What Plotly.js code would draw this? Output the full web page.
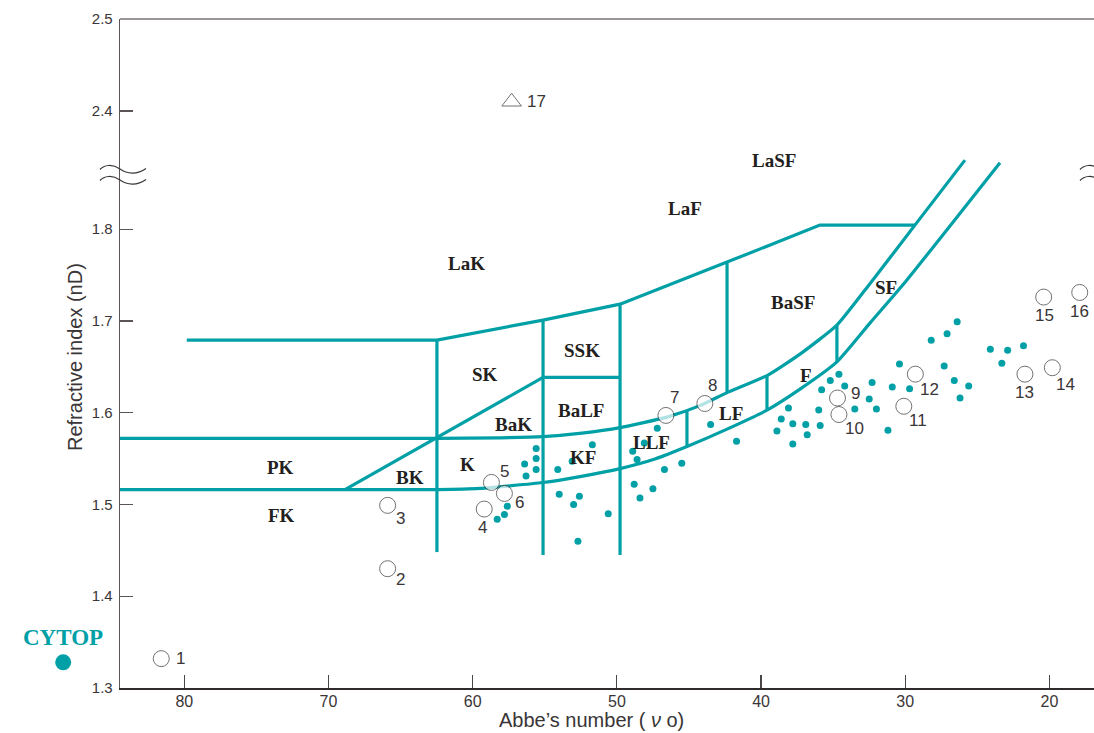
<!DOCTYPE html>
<html>
<head>
<meta charset="utf-8">
<script src="https://cdn.plot.ly/plotly-3.0.1.min.js"></script>
<style>
  html, body { margin: 0; padding: 0; background: #ffffff; }
  #chart { width: 1094px; height: 733px; }
</style>
</head>
<body>
<div id="chart"></div>
<script>
// ---- Glass map data: Abbe number (νd) vs refractive index (nd) ----

// Numbered reference materials
const sampleIds    = ['1', '2', '3', '4', '5', '6', '7', '8', '9', '10', '11', '12', '13', '14', '15', '16', '17'];
const sampleAbbe   = [81.6, 65.9, 65.9, 59.2, 58.7, 57.8, 46.6, 43.9, 34.7, 34.6, 30.1, 29.3, 21.7, 19.8, 20.4, 17.9, 57.3];
const sampleIndex  = [1.332, 1.430, 1.499, 1.495, 1.524, 1.512, 1.597, 1.610, 1.616, 1.598, 1.607, 1.642, 1.642, 1.649, 1.726, 1.731, 2.41];

// Optical plastics (small dots)
const plasticAbbe  = [55.6, 55.6, 56.4, 55.6, 56.3, 54.1, 51.7, 53.1, 57.6, 57.8, 58.3, 54.0, 52.6, 53.0, 50.6, 52.7,
                      47.2, 48.1, 48.9, 48.6, 46.7, 45.5, 48.8, 47.5, 48.4, 43.5, 41.7, 38.1, 38.6, 37.8, 36.9, 38.9,
                      36.8, 37.8, 35.9, 36.0, 35.8, 35.2, 34.6, 34.2, 33.5, 32.5, 32.3, 32.0, 31.2, 30.9, 30.4, 29.7,
                      28.2, 27.1, 26.4, 27.3, 26.6, 25.6, 26.2, 24.1, 22.9, 21.8, 23.3];
const plasticIndex = [1.561, 1.550, 1.544, 1.538, 1.531, 1.538, 1.565, 1.547, 1.498, 1.489, 1.484, 1.511, 1.509, 1.500, 1.490, 1.460,
                      1.583, 1.567, 1.558, 1.549, 1.538, 1.545, 1.522, 1.517, 1.507, 1.587, 1.569, 1.605, 1.593, 1.588, 1.587, 1.580,
                      1.576, 1.566, 1.586, 1.603, 1.625, 1.635, 1.642, 1.629, 1.604, 1.615, 1.633, 1.604, 1.581, 1.628, 1.653, 1.626,
                      1.679, 1.686, 1.699, 1.651, 1.635, 1.629, 1.616, 1.669, 1.668, 1.673, 1.654];

// CYTOP fluoropolymer (lies left of the plotted Abbe range)
const cytopName  = 'CYTOP';
const cytopAbbe  = 88.4;
const cytopIndex = 1.328;

// Glass-type region boundaries
const upperEdgeAbbe  = [85, 62.48, 58.11, 55.12, 52.42, 49.78, 46.53, 44.24, 42.36, 39.52, 37.30, 34.74, 32.45, 29.33, 25.86];
const upperEdgeIndex = [1.572, 1.572, 1.5726, 1.574, 1.5778, 1.5838, 1.5952, 1.6077, 1.6219, 1.641, 1.6638, 1.6954, 1.7406, 1.8044, 1.8752];
const lowerEdgeAbbe  = [85, 62.48, 59.49, 55.12, 52.56, 49.78, 47.36, 45.14, 42.36, 39.59, 37.30, 34.74, 32.45, 29.90, 23.43];
const lowerEdgeIndex = [1.5162, 1.5162, 1.5175, 1.5239, 1.5304, 1.5391, 1.5495, 1.5631, 1.5821, 1.6028, 1.6257, 1.6554, 1.6976, 1.7444, 1.8724];
const topEdgeAbbe    = [79.83, 62.48, 55.12, 49.78, 42.36, 35.92, 29.33];
const topEdgeIndex   = [1.6791, 1.6791, 1.7009, 1.7183, 1.7641, 1.8044, 1.8044];
const dividerAbbe    = [62.48, 62.48, null, 55.12, 55.12, null, 49.78, 49.78, null, 45.14, 45.14, null,
                        42.36, 42.36, null, 39.59, 39.59, null, 34.74, 34.74, null, 55.12, 49.78, null, 68.86, 55.12];
const dividerIndex   = [1.6791, 1.4481, null, 1.7009, 1.4449, null, 1.7183, 1.4449, null, 1.603, 1.5631, null,
                        1.7641, 1.6219, null, 1.6404, 1.6028, null, 1.6954, 1.6554, null, 1.6385, 1.6385, null, 1.5162, 1.6385];

// Glass-type names and where they sit on the map
const regionNames = ['LaSF', 'LaF', 'LaK', 'SSK', 'SK', 'BaLF', 'BaK', 'BaSF', 'SF', 'F', 'LF', 'LLF', 'KF', 'K', 'BK', 'PK', 'FK'];
const regionAbbe  = [39.11, 45.28, 60.46, 52.42, 59.15, 52.49, 57.14, 37.79, 31.34, 36.89, 42.09, 47.57, 52.35, 60.33, 64.35, 73.36, 73.29];
const regionIndex = [1.8752, 1.8229, 1.7630, 1.6682, 1.6420, 1.6028, 1.5876, 1.7205, 1.7368, 1.6410, 1.5996, 1.5680, 1.5516, 1.5440, 1.5298, 1.5407, 1.4885];

// Axis ticks
const abbeTicks   = [80, 70, 60, 50, 40, 30, 20];
const indexTicks  = [1.3, 1.4, 1.5, 1.6, 1.7, 1.8, 2.4, 2.5];
const indexLabels = ['1.3', '1.4', '1.5', '1.6', '1.7', '1.8', '2.4', '2.5'];

// ---- Broken index axis: values above the break are shifted down ----
const BREAK_AT = 2.0;
const BREAK_SHIFT = 0.4712;
function axisY(n) { return (n === null) ? null : (n > BREAK_AT ? n - BREAK_SHIFT : n); }

// ---- Styling ----
const TEAL = '#00a0a6';
const INK = '#231f20';
const GREY_TEXT = '#3a3536';
const SANS = 'Liberation Sans, Arial, sans-serif';
const SERIF = 'Liberation Serif, Times New Roman, serif';
const M = { l: 120, r: 0, t: 19, b: 45 };
const W = 1094, H = 733;
const PW = W - M.l - M.r, PH = H - M.t - M.b;

// label offsets (px, right / down) for the numbered materials
const sampleLabelShift = {
  '1': [19.5, 0], '2': [13, 11], '3': [12.5, 13.5], '4': [-1.5, 18], '5': [13.5, -10.5], '6': [15.5, 9.5],
  '7': [8.5, -17.5], '8': [7.5, -18.5], '9': [18, -5], '10': [15.5, 14], '11': [14, 14], '12': [14.5, 15.5],
  '13': [0, 18.5], '14': [13, 16.5], '15': [1, 18.7], '16': [0, 19], '17': [25, 0]
};

const boundaryLine = { color: TEAL, width: 3.2 };

const traces = [
  { x: upperEdgeAbbe, y: upperEdgeIndex.map(axisY), mode: 'lines', line: Object.assign({ shape: 'spline', smoothing: 0.5 }, boundaryLine), hoverinfo: 'skip' },
  { x: lowerEdgeAbbe, y: lowerEdgeIndex.map(axisY), mode: 'lines', line: Object.assign({ shape: 'spline', smoothing: 0.5 }, boundaryLine), hoverinfo: 'skip' },
  { x: topEdgeAbbe, y: topEdgeIndex.map(axisY), mode: 'lines', line: boundaryLine, hoverinfo: 'skip' },
  { x: dividerAbbe, y: dividerIndex.map(axisY), mode: 'lines', line: boundaryLine, connectgaps: false, hoverinfo: 'skip' },
  {
    x: plasticAbbe, y: plasticIndex.map(axisY), mode: 'markers',
    marker: { color: TEAL, size: 7, line: { width: 0 } }
  },
  {
    x: sampleAbbe, y: sampleIndex.map(axisY), mode: 'markers',
    marker: {
      symbol: sampleIds.map(id => id === '17' ? 'triangle-up' : 'circle'),
      size: sampleIds.map(id => id === '17' ? 17 : 16),
      color: '#ffffff', line: { color: GREY_TEXT, width: 1 }
    }
  }
];

const annotations = [];
regionNames.forEach((name, i) => {
  annotations.push({
    x: regionAbbe[i], y: axisY(regionIndex[i]), xref: 'x', yref: 'y', text: name, showarrow: false,
    font: { family: SERIF, size: 19, color: INK, weight: 'bold' }
  });
});
sampleIds.forEach((id, i) => {
  const s = sampleLabelShift[id];
  annotations.push({
    x: sampleAbbe[i], y: axisY(sampleIndex[i]), xref: 'x', yref: 'y', text: id, showarrow: false,
    xshift: s[0], yshift: -s[1],
    font: { family: SANS, size: 17, color: GREY_TEXT }
  });
});
annotations.push({
  x: (591 - M.l) / PW, y: (H - M.b - 720) / PH, xref: 'paper', yref: 'paper', showarrow: false,
  xanchor: 'center', yanchor: 'middle',
  text: 'Abbe’s number ( <i>ν</i> o)', font: { family: SANS, size: 20, color: GREY_TEXT }
});
annotations.push({
  x: (75 - M.l) / PW, y: (H - M.b - 357) / PH, xref: 'paper', yref: 'paper', showarrow: false, textangle: -90,
  xanchor: 'center', yanchor: 'middle',
  text: 'Refractive index (nD)', font: { family: SANS, size: 20, color: GREY_TEXT }
});

// axis-break marks drawn as pairs of wavy strokes (pixel geometry -> paper units)
function px(xp, yp) { return ((xp - M.l) / PW).toFixed(5) + ',' + ((H - M.b - yp) / PH).toFixed(5); }
function wave(cx, cy) {
  return 'M' + px(cx - 20, cy + 0.5) +
         ' C' + px(cx - 16, cy - 4) + ' ' + px(cx - 8, cy - 5.5) + ' ' + px(cx, cy) +
         ' C' + px(cx + 7, cy + 5) + ' ' + px(cx + 17, cy + 6) + ' ' + px(cx + 26, cy - 0.5);
}
const breakStroke = { color: GREY_TEXT, width: 1.2 };
const shapes = [
  { type: 'path', xref: 'paper', yref: 'paper', path: wave(120, 169), line: breakStroke },
  { type: 'path', xref: 'paper', yref: 'paper', path: wave(120, 180), line: breakStroke },
  { type: 'path', xref: 'paper', yref: 'paper', path: wave(1100, 169), line: breakStroke },
  { type: 'path', xref: 'paper', yref: 'paper', path: wave(1100, 180), line: breakStroke },
  { type: 'line', xref: 'paper', yref: 'paper', x0: 0, x1: 1, y0: 1, y1: 1, line: { color: '#7a7475', width: 1.3 } }
];

const layout = {
  width: W, height: H, margin: M,
  paper_bgcolor: '#ffffff', plot_bgcolor: '#ffffff',
  showlegend: false,
  xaxis: {
    range: [84.46, 16.91], tickvals: abbeTicks, ticktext: abbeTicks.map(String),
    ticks: 'inside', ticklen: 13, tickwidth: 1.2, tickcolor: '#4a4546',
    showline: true, linecolor: '#2f2a2b', linewidth: 1.5,
    showgrid: false, zeroline: false, ticklabelstandoff: -2,
    tickfont: { family: SANS, size: 16, color: GREY_TEXT }
  },
  yaxis: {
    range: [1.3, 2.029], tickvals: indexTicks.map(axisY), ticktext: indexLabels,
    ticks: 'inside', ticklen: 13, tickwidth: 1.2, tickcolor: '#5b5556',
    showline: true, linecolor: '#5b5556', linewidth: 1.3,
    showgrid: false, zeroline: false, ticklabelstandoff: 3,
    tickfont: { family: SANS, size: 15, color: GREY_TEXT }
  },
  annotations: annotations,
  shapes: shapes
};

Plotly.newPlot('chart', traces, layout, { staticPlot: true, displayModeBar: false }).then(gd => {
  // CYTOP sits outside the Abbe range, so place it through the axes' own scale as a paper-anchored mark
  const xa = gd._fullLayout.xaxis, ya = gd._fullLayout.yaxis;
  const fx = xa.r2fraction(cytopAbbe);
  const fy = ya.r2fraction(axisY(cytopIndex));
  const dot = {
    type: 'circle', xref: 'paper', yref: 'paper', xsizemode: 'pixel', ysizemode: 'pixel',
    xanchor: fx, yanchor: fy, x0: -8, x1: 8, y0: -8, y1: 8,
    fillcolor: TEAL, line: { width: 0 }
  };
  const label = {
    x: fx, y: fy, xref: 'paper', yref: 'paper', xanchor: 'center', yanchor: 'middle', yshift: 25,
    showarrow: false, text: cytopName, font: { family: SERIF, size: 23, color: TEAL, weight: 'bold' }
  };
  return Plotly.relayout(gd, { shapes: shapes.concat([dot]), annotations: annotations.concat([label]) });
});
</script>
</body>
</html>
